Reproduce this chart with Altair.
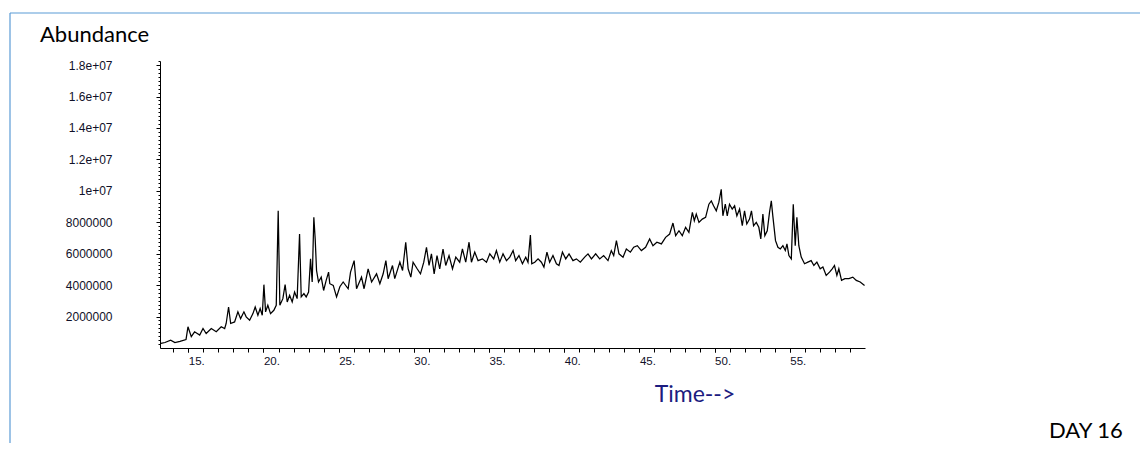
import altair as alt
import pandas as pd

# retention time (min)
times = [
    13.18, 13.45, 13.83, 14.11, 14.45, 14.85, 14.98, 15.20, 15.42, 15.76,
    15.98, 16.19, 16.53, 16.86, 17.19, 17.42, 17.52, 17.68, 17.82, 18.08,
    18.30, 18.48, 18.70, 18.85, 19.08, 19.30, 19.45, 19.63, 19.78, 19.92,
    20.03, 20.14, 20.29, 20.47, 20.69, 20.85, 20.98, 21.09, 21.29, 21.44,
    21.58, 21.74, 21.91, 22.07, 22.24, 22.40, 22.51, 22.69, 22.84, 23.00,
    23.13, 23.24, 23.35, 23.44, 23.53, 23.66, 23.84, 24.00, 24.17, 24.33,
    24.41, 24.64, 24.86, 25.08, 25.30, 25.63, 25.79, 26.03, 26.19, 26.52,
    26.69, 26.96, 27.19, 27.52, 27.74, 27.96, 28.14, 28.29, 28.58, 28.73,
    29.07, 29.25, 29.46, 29.62, 29.80, 29.95, 30.22, 30.44, 30.66, 30.84,
    31.01, 31.17, 31.35, 31.54, 31.72, 31.94, 32.12, 32.34, 32.57, 32.79,
    33.05, 33.23, 33.45, 33.67, 33.83, 34.05, 34.27, 34.56, 34.83, 35.05,
    35.31, 35.49, 35.71, 35.93, 36.16, 36.38, 36.60, 36.77, 36.99, 37.22,
    37.44, 37.59, 37.75, 37.84, 38.04, 38.26, 38.48, 38.65, 38.85, 39.03,
    39.25, 39.48, 39.65, 39.88, 40.10, 40.32, 40.58, 40.81, 41.07, 41.36,
    41.58, 41.81, 42.09, 42.36, 42.62, 42.91, 43.13, 43.29, 43.47, 43.64,
    43.91, 44.13, 44.40, 44.62, 44.86, 45.13, 45.41, 45.68, 45.90, 46.16,
    46.46, 46.74, 47.01, 47.23, 47.41, 47.63, 47.85, 48.07, 48.29, 48.52,
    48.65, 48.78, 48.96, 49.18, 49.40, 49.62, 49.78, 49.93, 50.11, 50.28,
    50.44, 50.55, 50.71, 50.84, 50.99, 51.17, 51.33, 51.48, 51.66, 51.84,
    51.99, 52.14, 52.32, 52.45, 52.59, 52.77, 52.94, 53.07, 53.21, 53.34,
    53.50, 53.65, 53.77, 53.87, 54.05, 54.21, 54.37, 54.54, 54.70, 54.81,
    54.94, 55.10, 55.23, 55.36, 55.47, 55.60, 55.76, 55.98, 56.20, 56.42,
    56.60, 56.80, 57.02, 57.20, 57.42, 57.64, 57.82, 57.97, 58.13, 58.26,
    58.44, 58.66, 58.93, 59.19, 59.42, 59.68, 59.97,
]

# abundance in millions of counts
abundance_millions = [
    0.29, 0.35, 0.50, 0.35, 0.42, 0.54, 1.35, 0.72, 1.03, 0.82,
    1.24, 0.92, 1.24, 1.03, 1.35, 1.24, 1.56, 2.61, 1.56, 1.66,
    2.30, 1.87, 2.30, 1.98, 1.77, 2.19, 2.61, 2.08, 2.51, 2.08,
    4.03, 2.30, 2.72, 2.19, 2.40, 2.72, 8.73, 2.72, 3.14, 4.03,
    2.93, 3.35, 2.93, 3.56, 3.14, 7.25, 3.25, 3.46, 3.25, 3.56,
    5.67, 4.20, 8.31, 6.94, 4.93, 4.20, 4.51, 3.66, 4.30, 4.83,
    4.09, 3.98, 3.25, 3.90, 4.20, 3.77, 4.83, 5.56, 3.77, 4.51,
    3.77, 5.04, 4.20, 4.72, 4.09, 4.72, 5.56, 4.41, 5.25, 4.41,
    5.46, 4.93, 6.73, 5.04, 4.51, 5.46, 5.04, 4.72, 5.46, 6.41,
    5.25, 5.99, 4.72, 5.88, 5.04, 6.30, 5.25, 5.88, 5.04, 5.78,
    5.46, 6.30, 5.46, 6.73, 5.46, 6.10, 5.56, 5.67, 5.46, 5.99,
    5.67, 6.20, 5.46, 5.99, 5.56, 5.78, 6.20, 5.56, 5.88, 5.36,
    5.78, 5.46, 7.19, 5.36, 5.46, 5.67, 5.46, 5.15, 6.10, 5.46,
    5.88, 5.36, 5.25, 6.10, 5.67, 5.99, 5.56, 5.67, 5.46, 5.78,
    5.99, 5.67, 5.99, 5.67, 5.88, 5.56, 6.20, 5.88, 6.83, 5.99,
    5.78, 6.30, 6.10, 6.41, 6.51, 6.20, 6.41, 6.94, 6.51, 6.73,
    6.62, 7.04, 7.25, 7.95, 7.15, 7.46, 7.15, 7.68, 7.36, 8.63,
    8.10, 8.52, 7.99, 8.20, 8.31, 9.15, 9.36, 9.05, 8.73, 9.26,
    10.10, 8.41, 9.15, 8.41, 9.15, 8.84, 9.05, 8.41, 8.84, 7.78,
    8.73, 7.89, 8.20, 8.73, 7.78, 7.99, 7.68, 6.94, 8.52, 7.15,
    7.46, 8.63, 9.36, 8.41, 6.83, 6.41, 6.30, 6.51, 6.20, 6.62,
    5.88, 5.67, 9.15, 6.51, 8.31, 6.51, 5.78, 5.36, 5.46, 5.56,
    5.25, 5.46, 5.04, 5.15, 4.62, 4.83, 5.04, 5.25, 4.62, 5.04,
    4.30, 4.41, 4.41, 4.51, 4.30, 4.20, 3.98,
]

y_tick_values = [2000000, 4000000, 6000000, 8000000, 10000000,
                 12000000, 14000000, 16000000, 18000000]
y_tick_labels = ["2000000", "4000000", "6000000", "8000000", "1e+07",
                 "1.2e+07", "1.4e+07", "1.6e+07", "1.8e+07"]
x_tick_values = [15, 20, 25, 30, 35, 40, 45, 50, 55]
x_tick_labels = ["15.", "20.", "25.", "30.", "35.", "40.", "45.", "50.", "55."]

y_label_text = ["Abundance"]
x_label_text = ["Time-->"]
tag_text = ["DAY 16"]

x_minor = list(range(14, 60))
y_minor = [i * 250000 for i in range(1, 74)]


def label_expr(values, labels):
    expr = "''"
    for v, l in zip(values, labels):
        expr = f"datum.value == {v} ? '{l}' : ({expr})"
    return expr


df = pd.DataFrame({
    "time": times,
    "abundance": [round(a * 1e6) for a in abundance_millions],
})

xs = alt.Scale(domain=[13.12, 60.0], nice=False, zero=False)
ys = alt.Scale(domain=[0, 18260000], nice=False, zero=False)

LABEL_COLOR = "#101028"

line = alt.Chart(df).mark_line(color="black", strokeWidth=1.25).encode(
    x=alt.X("time:Q", scale=xs, axis=alt.Axis(
        orient="bottom", values=x_tick_values,
        labelExpr=label_expr(x_tick_values, x_tick_labels),
        title=None, grid=False, domainColor="black", domainWidth=1,
        tickColor="black", tickSize=4, labelAlign="left", labelBaseline="top",
        labelFont="Liberation Sans", labelFontSize=11.5, labelColor=LABEL_COLOR,
        labelPadding=3, labelFlush=False, labelOverlap=False)),
    y=alt.Y("abundance:Q", scale=ys, axis=alt.Axis(
        orient="left", values=y_tick_values,
        labelExpr=label_expr(y_tick_values, y_tick_labels),
        title=None, grid=False, domainColor="black", domainWidth=1,
        tickColor="black", tickSize=4, labelFont="Liberation Sans",
        labelFontSize=12, labelColor=LABEL_COLOR, labelPadding=44,
        labelOverlap=False)),
)

minor = alt.Chart(df).mark_line(strokeOpacity=0).encode(
    x=alt.X("time:Q", scale=xs, axis=alt.Axis(
        orient="bottom", values=x_minor, labels=False, domain=False,
        grid=False, tickColor="black", tickSize=4, title=None)),
    y=alt.Y("abundance:Q", scale=ys, axis=alt.Axis(
        orient="left", values=y_minor, labels=False, domain=False,
        grid=False, tickColor="black", tickSize=2, title=None)),
)

one = pd.DataFrame({"k": [0]})
border_top = alt.Chart(one).mark_rule(color="#5b9bd5", strokeWidth=1.2).encode(
    x=alt.value(-150), x2=alt.value(990), y=alt.value(-48))
border_left = alt.Chart(one).mark_rule(color="#5b9bd5", strokeWidth=1.2).encode(
    x=alt.value(-150), y=alt.value(-48), y2=alt.value(390))

t_abund = alt.Chart(pd.DataFrame({"t": y_label_text})).mark_text(
    align="left", baseline="alphabetic", font="Lato", fontSize=22, color="black"
).encode(x=alt.value(-120), y=alt.value(-19), text="t:N")

t_time = alt.Chart(pd.DataFrame({"t": x_label_text})).mark_text(
    align="center", baseline="alphabetic", font="Lato", fontSize=23, color="#1c1c80"
).encode(x=alt.value(535), y=alt.value(341), text="t:N")

t_day = alt.Chart(pd.DataFrame({"t": tag_text})).mark_text(
    align="left", baseline="alphabetic", font="Lato", fontSize=22, color="black"
).encode(x=alt.value(889), y=alt.value(377), text="t:N")

chart = alt.layer(
    line, minor, border_top, border_left, t_abund, t_time, t_day
).resolve_axis(x="independent", y="independent").properties(
    width=705, height=287,
    padding={"left": 152, "top": 53, "right": 275, "bottom": 95},
    autosize="none",
    background="white",
).configure_view(stroke=None)

chart.save("out.html", embed_options={"renderer": "svg", "actions": False})
